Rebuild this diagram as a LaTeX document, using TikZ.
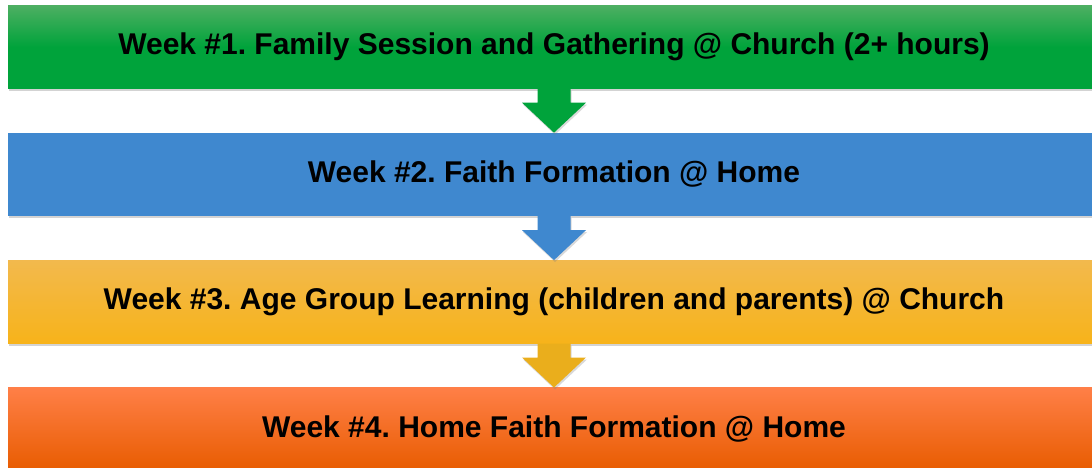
\documentclass[tikz,border=0pt]{standalone}
\usepackage{fontspec}
\setmainfont{Liberation Sans}
\usetikzlibrary{positioning,calc,shadows}
\frenchspacing

\definecolor{grnTop}{HTML}{4DAF62}
\definecolor{grnBot}{HTML}{00A33B}
\definecolor{bluFill}{HTML}{3F88CF}
\definecolor{ylwTop}{HTML}{F2B94D}
\definecolor{ylwBot}{HTML}{F7B31A}
\definecolor{ylwArrow}{HTML}{EAAE1C}
\definecolor{orgTop}{HTML}{FF7F47}
\definecolor{orgMid}{HTML}{FF6A0B}
\definecolor{orgBot}{HTML}{E85C00}

\begin{document}
\begin{tikzpicture}[x=1pt, y=1pt,
            node distance=44pt,
            week/.style = {rectangle, minimum width=1092pt, minimum height=83pt,
                inner sep=0pt, font=\bfseries\fontsize{30}{36}\selectfont,
                drop shadow={shadow xshift=1pt, shadow yshift=-2.5pt, opacity=0.35}},
            arrowshadow/.style = {drop shadow={shadow xshift=1pt, shadow yshift=-2pt, opacity=0.3}}
            ]
            \useasboundingbox (0,0) rectangle (1092,467);
            \node[week, top color=grnTop, bottom color=grnBot, middle color=grnBot] (week1) at (554,420)
                {Week \#1. Family Session and Gathering @ Church (2+ hours)};
            \node[week, fill=bluFill, below=of week1] (week2)
                {Week \#2. Faith Formation @ Home};
            \node[week, top color=ylwTop, bottom color=ylwBot, below=of week2] (week3)
                {Week \#3. Age Group Learning (children and parents) @ Church};
            \node[week, top color=orgTop, middle color=orgMid, bottom color=orgBot, below=of week3] (week4)
                {Week \#4. Home Faith Formation @ Home};
            \foreach \a/\b/\c in {week1/week2/grnBot, week2/week3/bluFill, week3/week4/ylwArrow}
                \fill[\c, arrowshadow] ($(\a.south)+(-16.5,0)$) -- ($(\a.south)+(-16.5,-14)$)
                    -- ($(\a.south)+(-32,-14)$) -- (\b.north) -- ($(\a.south)+(32,-14)$)
                    -- ($(\a.south)+(16.5,-14)$) -- ($(\a.south)+(16.5,0)$) -- cycle;
        \end{tikzpicture}
\end{document}
